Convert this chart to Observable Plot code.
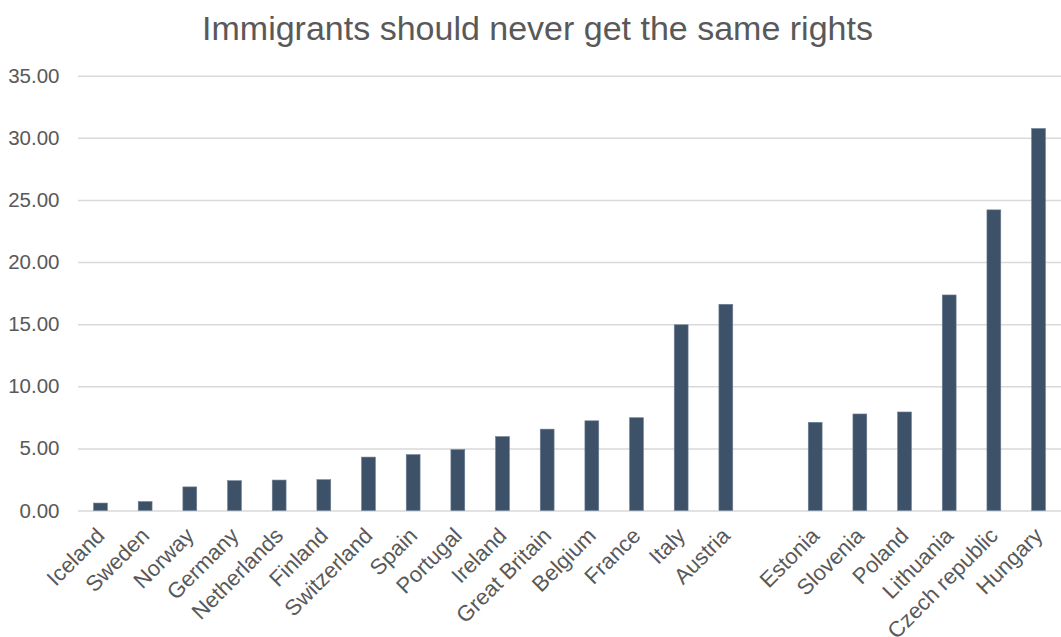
<!DOCTYPE html>
<html>
<head>
<meta charset="utf-8">
<script src="https://cdn.jsdelivr.net/npm/d3@7"></script>
<script src="https://cdn.jsdelivr.net/npm/@observablehq/plot@0.6"></script>
<style>
  html, body { margin: 0; padding: 0; background: #ffffff; }
  #title {
    height: 41px; padding-top: 11px; margin: 0;
    font-family: "Liberation Sans", Arial, sans-serif;
    font-size: 34px; line-height: 1; font-weight: normal;
    color: #595959; text-align: center; padding-left: 14px; width: 1047px;
    white-space: nowrap;
  }
</style>
</head>
<body>
<div id="title">Immigrants should never get the same rights</div>
<div id="chart"></div>
<script>
const westernCountries = ["Iceland", "Sweden", "Norway", "Germany", "Netherlands", "Finland", "Switzerland", "Spain", "Portugal", "Ireland", "Great Britain", "Belgium", "France", "Italy", "Austria"];
const westernValues = [0.6, 0.72, 1.9, 2.4, 2.45, 2.48, 4.3, 4.5, 4.9, 5.95, 6.55, 7.22, 7.47, 14.95, 16.6];
const easternCountries = ["Estonia", "Slovenia", "Poland", "Lithuania", "Czech republic", "Hungary"];
const easternValues = [7.1, 7.77, 7.93, 17.35, 24.2, 30.75];
const gapKey = " ";
const yTicks = [0, 5, 10, 15, 20, 25, 30, 35];

const countries = [...westernCountries, ...easternCountries];
const values = [...westernValues, ...easternValues];
const data = countries.map((c, i) => ({country: c, value: values[i]}));
const domain = [...westernCountries, gapKey, ...easternCountries];

const textColor = "#595959";
const font = "'Liberation Sans', Arial, sans-serif";

const chart = Plot.plot({
  width: 1061,
  height: 585,
  marginTop: 23.7,
  marginBottom: 126.5,
  marginLeft: 78,
  marginRight: 0,
  style: {fontFamily: font, fontSize: "20.5px", color: textColor, background: "#ffffff", overflow: "visible"},
  x: {domain, paddingInner: 0.69, paddingOuter: 0.348, align: 0.5, round: false, axis: null},
  y: {domain: [0, 35], axis: null},
  marks: [
    Plot.ruleY(yTicks, {stroke: "#d9d9d9", strokeWidth: 1.5}),
    Plot.barY(data, {x: "country", y: "value", fill: "#3d5168", stroke: "#6f7f94", strokeWidth: 0.6}),
    Plot.axisY({ticks: yTicks, tickFormat: d3.format(".2f"), tickSize: 0, tickPadding: 19, fontSize: 20.5, fill: textColor, label: null}),
    Plot.text(countries, {x: d => d, frameAnchor: "bottom", rotate: -45, textAnchor: "end", lineAnchor: "middle", dx: 0, dy: 21, fontSize: 22, fill: textColor})
  ]
});
document.getElementById("chart").appendChild(chart);
</script>
</body>
</html>
